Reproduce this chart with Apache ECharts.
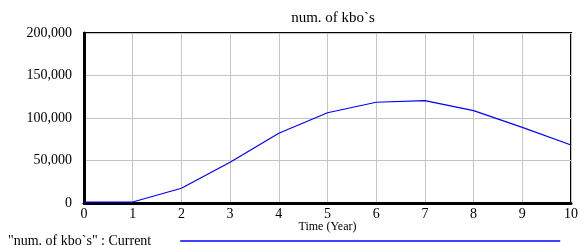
<!DOCTYPE html>
<html>
<head>
<meta charset="utf-8">
<script src="https://cdn.jsdelivr.net/npm/echarts@6/dist/echarts.min.js"></script>
<style>
  html, body { margin: 0; padding: 0; background: #fff; }
  #chart { width: 581px; height: 246px; }
</style>
</head>
<body>
<div id="chart"></div>
<script>
// values
const years = ['0', '1', '2', '3', '4', '5', '6', '7', '8', '9', '10'];
const kbos = [1200, 1200, 17300, 47900, 82000, 106200, 118500, 120400, 108600, 89000, 68200];
const seriesName = '"num. of kbo`s" : Current';

const font = 'Liberation Serif';
const myChart = echarts.init(document.getElementById('chart'));

let option = {
    animation: false,
    title: {
        text: 'num. of kbo`s',
        left: 328,
        textAlign: 'center',
        top: 6,
        textStyle: { fontFamily: font, fontSize: 15, fontWeight: 'normal', color: '#000' }
    },
    legend: {
        left: 8,
        top: 234,
        padding: 0,
        align: 'right',
        icon: 'rect',
        itemWidth: 380,
        itemHeight: 1.5,
        textStyle: { fontFamily: font, fontSize: 14, color: '#000', padding: [0, 24, 0, 0] },
        data: [seriesName]
    },
    grid: {
        left: 84,
        right: 8,
        top: 33,
        bottom: 43,
        show: true,
        borderColor: '#000',
        borderWidth: 2
    },
    xAxis: {
        type: 'category',
        boundaryGap: false,
        data: years,
        name: 'Time (Year)',
        nameLocation: 'middle',
        nameGap: 18,
        nameMoveOverlap: false,
        nameTextStyle: { fontFamily: font, fontSize: 12, color: '#000' },
        axisLine: { lineStyle: { color: '#000', width: 3 } },
        axisTick: { show: false },
        axisLabel: { fontFamily: font, fontSize: 14, color: '#000', margin: 4 },
        splitLine: { show: true, lineStyle: { color: '#c4c4c4', width: 1 } }
    },
    yAxis: {
        type: 'value',
        min: 0,
        max: 200000,
        interval: 50000,
        axisLine: { show: true, lineStyle: { color: '#000', width: 3 } },
        axisTick: { show: false },
        axisLabel: {
            fontFamily: font, fontSize: 14, color: '#000', margin: 12,
            formatter: v => v.toLocaleString('en-US')
        },
        splitLine: { show: true, lineStyle: { color: '#c4c4c4', width: 1 } }
    },
    series: [
        {
            name: seriesName,
            type: 'line',
            data: kbos,
            showSymbol: false,
            color: '#0000ff',
            lineStyle: { color: '#0000ff', width: 1.2 }
        }
    ]
};

myChart.setOption(option);
</script>
</body>
</html>
